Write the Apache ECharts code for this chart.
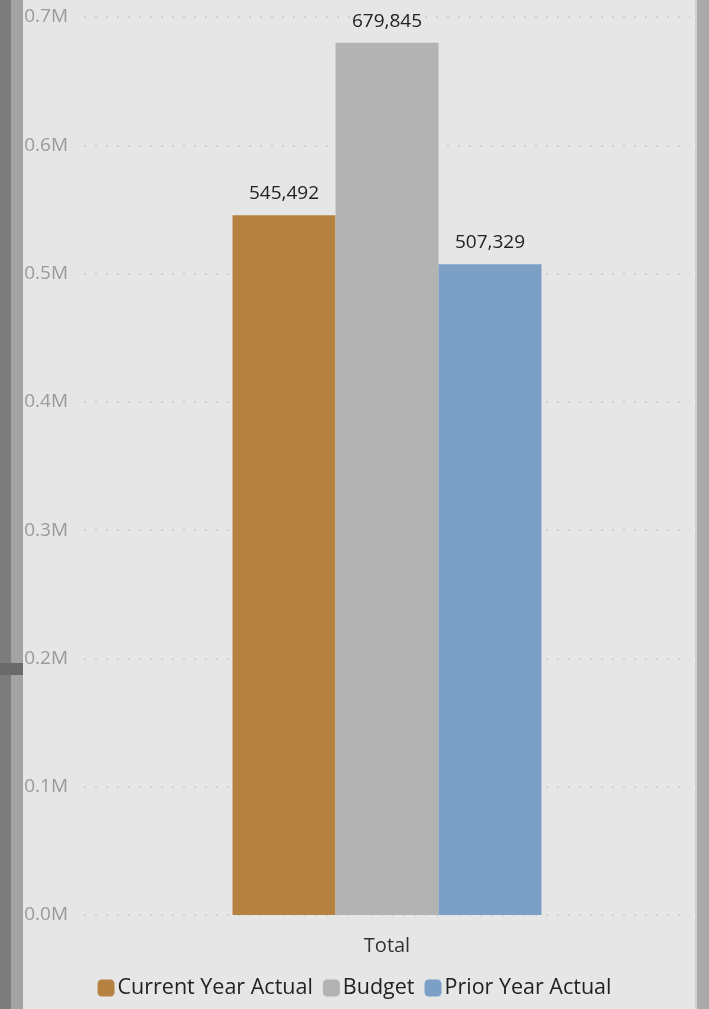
<!DOCTYPE html>
<html>
<head>
<meta charset="utf-8">
<script src="https://cdn.jsdelivr.net/npm/echarts@6/dist/echarts.min.js"></script>
<style>
  html, body { margin: 0; padding: 0; background: #e6e6e6; }
  #chart { width: 709px; height: 1009px; }
</style>
</head>
<body>
<div id="chart"></div>
<script>
// data
const categories = ['Total'];
const seriesNames = ['Current Year Actual', 'Budget', 'Prior Year Actual'];
const currentYear = [545492];
const budget = [679845];
const priorYear = [507329];
const colors = ['#b58241', '#b3b3b3', '#7b9fc5'];

const chart = echarts.init(document.getElementById('chart'), null, {renderer: 'canvas'});

const fmt = v => v.toLocaleString('en-US');

function barSeries(name, data, color) {
    return {
        name: name,
        type: 'bar',
        data: data,
        barWidth: 103,
        barGap: '0%',
        itemStyle: {color: color},
        label: {
            show: true,
            position: 'top',
            distance: 12,
            color: '#222',
            fontSize: 19,
            fontFamily: 'Open Sans',
            formatter: p => fmt(p.value)
        }
    };
}

const option = {
    backgroundColor: '#e6e6e6',
    animation: false,
    grid: {left: 84, right: 19, top: 17, bottom: 94, containLabel: false},
    legend: {
        data: seriesNames,
        bottom: 5,
        left: 'center',
        icon: 'roundRect',
        itemWidth: 17,
        itemHeight: 17,
        itemGap: 10,
        textStyle: {color: '#222', fontSize: 21.5, fontFamily: 'Open Sans', padding: [0, 0, 0, -2]}
    },
    xAxis: {
        type: 'category',
        data: categories,
        axisLine: {show: false},
        axisTick: {show: false},
        axisLabel: {color: '#333', fontSize: 20, fontFamily: 'Open Sans', margin: 21}
    },
    yAxis: {
        type: 'value',
        min: 0,
        max: 700000,
        interval: 100000,
        axisLabel: {
            color: '#9a9a9a',
            fontSize: 19,
            fontFamily: 'Open Sans',
            margin: 16,
            formatter: v => (v / 1e6).toFixed(1) + 'M'
        },
        splitLine: {lineStyle: {color: '#d0d0d0', width: 2, type: [2, 9]}}
    },
    series: [
        barSeries(seriesNames[0], currentYear, colors[0]),
        barSeries(seriesNames[1], budget, colors[1]),
        barSeries(seriesNames[2], priorYear, colors[2])
    ],
    graphic: [
        // side frame strips
        {type: 'rect', shape: {x: 0, y: 0, width: 11, height: 1009}, style: {fill: '#7c7c7c'}, z: 100},
        {type: 'rect', shape: {x: 11, y: 0, width: 12, height: 1009}, style: {fill: '#a3a3a3'}, z: 100},
        {type: 'rect', shape: {x: 0, y: 663, width: 23, height: 12}, style: {fill: '#6a6a6a'}, z: 101},
        {type: 'rect', shape: {x: 697, y: 0, width: 12, height: 1009}, style: {fill: '#a9a9a9'}, z: 100},
        {type: 'rect', shape: {x: 695, y: 0, width: 2, height: 1009}, style: {fill: '#d2d2d2'}, z: 100}
    ]
};

chart.setOption(option);
</script>
</body>
</html>
